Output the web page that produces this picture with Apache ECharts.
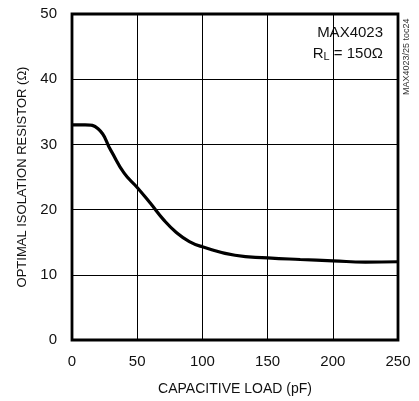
<!DOCTYPE html>
<html><head><meta charset="utf-8">
<script src="https://cdn.jsdelivr.net/npm/echarts@6/dist/echarts.min.js"></script>
<style>html,body{margin:0;padding:0;background:#fff}#c{width:419px;height:401px}</style>
</head><body><div id="c"></div>
<script>
const capLoad = [0,10,20,30,40,50,60,70,80,90,100,125,150,175,200,225,250];
const isoRes  = [33,33,32.4,29.0,25.6,23.4,21.0,18.5,16.5,15.1,14.3,13.0,12.6,12.35,12.15,11.95,12.0];
const xTicks = [0,50,100,150,200,250];
const yTicks = [0,10,20,30,40,50];
const FONT = '"Liberation Sans Narrow","Liberation Sans",Arial,sans-serif';

const chart = echarts.init(document.getElementById('c'), null, {renderer:'canvas'});
chart.setOption({
  animation:false,
  backgroundColor:'#fff',
  grid:{left:72,right:21,top:14,bottom:61,show:true,borderColor:'#000',borderWidth:2.8,backgroundColor:'transparent'},
  xAxis:{type:'value',min:xTicks[0],max:xTicks[xTicks.length-1],interval:50,
    name:'CAPACITIVE LOAD (pF)',nameLocation:'middle',nameGap:42,
    nameTextStyle:{fontFamily:FONT,fontSize:14,color:'#111'},
    axisLine:{show:false},axisTick:{show:false},
    axisLabel:{fontFamily:FONT,fontSize:15,color:'#111',margin:14},
    splitLine:{show:true,lineStyle:{color:'#000',width:1}}},
  yAxis:{type:'value',min:yTicks[0],max:yTicks[yTicks.length-1],interval:10,
    name:'OPTIMAL ISOLATION RESISTOR (Ω)',nameLocation:'middle',nameGap:41,
    nameTextStyle:{fontFamily:FONT,fontSize:13,color:'#111'},
    axisLine:{show:false},axisTick:{show:false},
    axisLabel:{fontFamily:FONT,fontSize:15,color:'#111',margin:15},
    splitLine:{show:true,lineStyle:{color:'#000',width:1}}},
  series:[{type:'line',smooth:0.5,symbol:'none',
    data:capLoad.map((x,i)=>[x,isoRes[i]]),
    lineStyle:{color:'#000',width:3.2}}],
  graphic:[
    {type:'text',right:36,top:25,style:{text:'MAX4023',font:'15px '+FONT,fill:'#111',textAlign:'right'}},
    {type:'text',right:36,top:46,style:{text:'{n|R}{s|L}{n| = 150Ω}',fill:'#111',
      rich:{n:{fontFamily:FONT,fontSize:15,fill:'#111'},s:{fontFamily:FONT,fontSize:11,fill:'#111',verticalAlign:'bottom',padding:[7,0,0,0]}}}},
    {type:'text',x:402,y:95,rotation:Math.PI/2,style:{text:'MAX4023/25 toc24',font:'9px '+FONT,fill:'#333',textAlign:'left',textVerticalAlign:'top'}}
  ]
});
</script></body></html>
